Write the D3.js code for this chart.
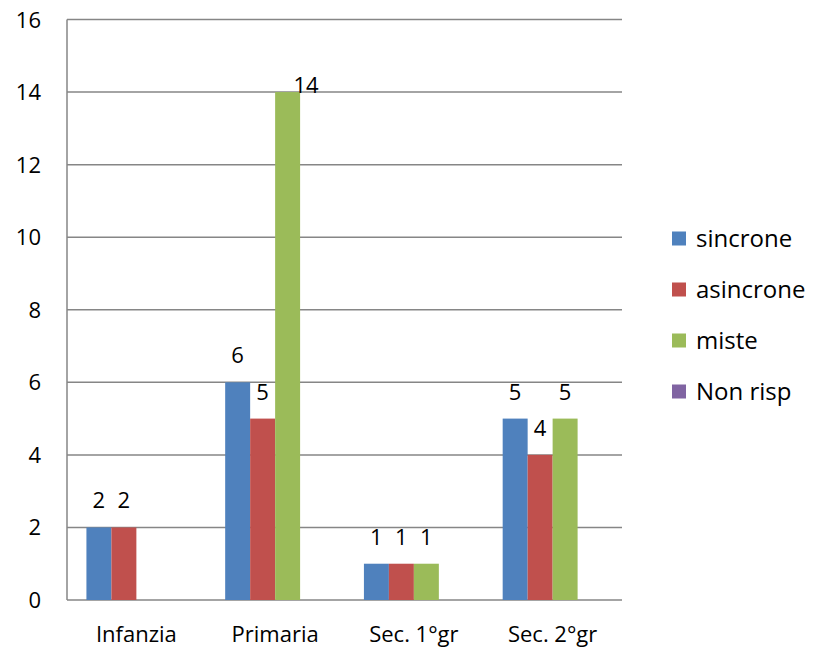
<!DOCTYPE html>
<html><head><meta charset="utf-8">
<script src="https://cdn.jsdelivr.net/npm/d3@7"></script>
<style>body{margin:0;background:#fff}svg{display:block}text{font-family:"Open Sans",sans-serif;fill:#000}</style>
</head><body><svg id="c" width="814" height="647"></svg>
<script>
const categories = ["Infanzia","Primaria","Sec. 1°gr","Sec. 2°gr"];
const seriesNames = ["sincrone","asincrone","miste","Non risp"];
const sincrone = [2,6,1,5];
const asincrone = [2,5,1,4];
const miste = [null,14,1,5];
const nonRisp = [null,null,null,null];
const yTicks = [0,2,4,6,8,10,12,14,16];
const colors = ["#4F81BD","#C0504D","#9BBB59","#8064A2"];
const seriesValues = [sincrone,asincrone,miste,nonRisp];

const FS = 22;
const svg = d3.select("#c");
const L=67, R=622, T=19.5, B=600;
const x0 = d3.scaleBand().domain(categories).range([L,R]).paddingInner(0.28).paddingOuter(0.14);
const x1 = d3.scaleBand().domain(seriesNames).range([0,x0.bandwidth()]);
const y = d3.scaleLinear().domain([0,16]).range([B,T]);

svg.append("g").selectAll("line").data(yTicks).join("line")
  .attr("x1",L).attr("x2",R).attr("y1",d=>y(d)).attr("y2",d=>y(d))
  .attr("stroke","#868686").attr("stroke-width",1.5);
svg.append("line").attr("x1",L).attr("x2",L).attr("y1",T).attr("y2",B).attr("stroke","#868686").attr("stroke-width",1.5);
svg.append("g").selectAll("text").data(yTicks).join("text")
  .attr("x",41).attr("y",d=>y(d)+8).attr("text-anchor","end").attr("font-size",FS).text(d=>d);

const g = svg.append("g");
seriesValues.forEach((vals,si)=>{
  vals.forEach((v,ci)=>{
    if(v==null) return;
    const bx = x0(categories[ci])+x1(seriesNames[si]);
    g.append("rect").attr("x",bx).attr("width",x1.bandwidth()).attr("y",y(v)).attr("height",y(0)-y(v)).attr("fill",colors[si]);
  });
});
seriesValues.forEach((vals,si)=>{
  vals.forEach((v,ci)=>{
    if(v==null) return;
    const bx = x0(categories[ci])+x1(seriesNames[si]);
    let tx = bx+x1.bandwidth()/2, ty = y(v)-19;
    if(v===d3.max(miste)){ tx = bx+x1.bandwidth()+6; ty = y(v)+1; }
    svg.append("text").attr("x",tx).attr("y",ty).attr("text-anchor","middle").attr("font-size",FS).text(v);
  });
});
svg.append("g").selectAll("text").data(categories).join("text")
  .attr("x",d=>x0(d)+x0.bandwidth()/2).attr("y",642).attr("text-anchor","middle").attr("font-size",FS).text(d=>d);

const lg = svg.append("g");
seriesNames.forEach((s,i)=>{
  const cy = 238.5+i*51;
  lg.append("rect").attr("x",672).attr("y",cy-7).attr("width",14).attr("height",14).attr("fill",colors[i]);
  lg.append("text").attr("x",696).attr("y",cy+8).attr("font-size",24).text(s);
});
</script></body></html>
